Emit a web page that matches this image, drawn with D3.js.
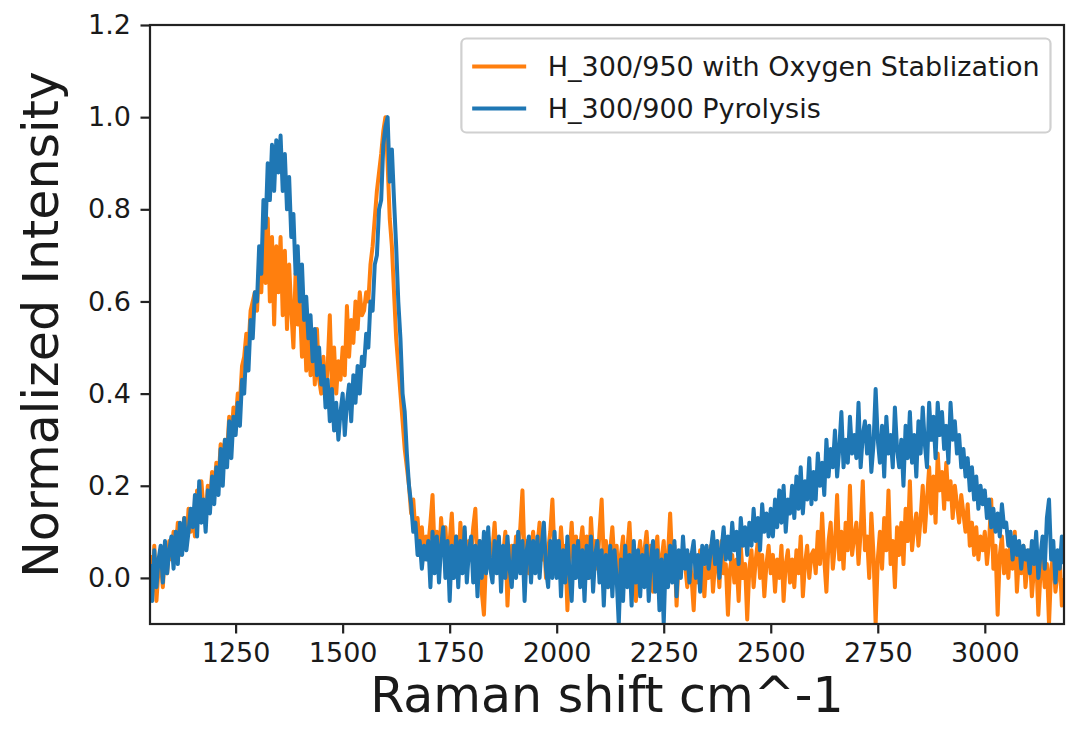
<!DOCTYPE html>
<html>
<head>
<meta charset="utf-8">
<script src="https://cdn.jsdelivr.net/npm/d3@7"></script>
<style>
  body { margin: 0; background: #fff; }
  svg text { font-family: "DejaVu Sans", sans-serif; fill: #1a1a1a; }
</style>
</head>
<body>
<div id="svg-container"></div>
<script>
// Raman shift grid (cm^-1): first sample and spacing
const shiftStart = 1050;
const shiftStep = 5;

// H_300/950 with Oxygen Stablization
const oxygenSeries = [
  0.05, -0.03, 0.07, -0.05, 0.02, 0.04, -0.02, 0.06, 0.01, 0.08,
  0.04, 0.1, 0.06, 0.12, 0.05, 0.09, 0.13, 0.07, 0.15, 0.1,
  0.14, 0.09, 0.19, 0.13, 0.21, 0.15, 0.12, 0.2, 0.16, 0.23,
  0.19, 0.25, 0.21, 0.29, 0.24, 0.3, 0.27, 0.35, 0.3, 0.37,
  0.34, 0.4, 0.38, 0.46, 0.48, 0.53, 0.5, 0.58, 0.6, 0.62,
  0.58, 0.68, 0.62, 0.76, 0.64, 0.78, 0.6, 0.74, 0.55, 0.72,
  0.62, 0.74, 0.57, 0.71, 0.54, 0.68, 0.58, 0.5, 0.66, 0.55,
  0.6, 0.48, 0.58, 0.45, 0.55, 0.44, 0.53, 0.42, 0.54, 0.43,
  0.4, 0.48, 0.39, 0.46, 0.57, 0.41, 0.5, 0.4, 0.47, 0.43,
  0.5, 0.44, 0.59, 0.48, 0.56, 0.51, 0.6, 0.54, 0.62, 0.57,
  0.58, 0.62, 0.6, 0.68, 0.72, 0.78, 0.84, 0.88, 0.92, 0.97,
  1.0, 0.9, 0.78, 0.72, 0.62, 0.52, 0.46, 0.4, 0.34, 0.28,
  0.24, 0.2, 0.14, 0.17, 0.1, 0.13, 0.06, 0.11, 0.04, 0.09,
  0.07, 0.12, 0.18, 0.05, 0.1, 0.02, 0.13, 0.06, 0.11, 0.03,
  0.08, 0.14, 0.04, 0.09, 0.01, 0.12, 0.06, 0.1, 0.03, 0.08,
  0.05, 0.11, 0.15, 0.02, 0.08, -0.03, -0.08, 0.04, 0.09, 0.02,
  0.06, 0.12, 0.03, 0.08, 0.0, 0.05, 0.1, -0.06, 0.04, 0.07,
  0.02, 0.09, 0.05, 0.11, 0.19, 0.04, 0.08, 0.01, 0.06, 0.1,
  0.03, 0.07, 0.12, 0.04, 0.09, 0.0, 0.06, 0.1, 0.17, 0.05,
  0.08, 0.02, 0.11, 0.04, 0.07, -0.07, 0.05, 0.12, 0.03, 0.09,
  0.01, 0.07, 0.11, 0.04, 0.09, 0.0, 0.13, 0.05, 0.08, 0.02,
  0.1, 0.17, 0.04, 0.08, -0.02, 0.06, 0.11, 0.03, 0.07, -0.04,
  0.05, 0.09, 0.0, 0.06, 0.12, 0.02, 0.07, -0.05, 0.04, 0.08,
  0.01, 0.06, 0.1, 0.03, 0.07, -0.03, 0.05, 0.09, 0.0, 0.04,
  0.08, -0.02, 0.05, 0.14, 0.03, 0.07, -0.06, 0.04, 0.02, 0.06,
  0.03, -0.02, 0.05, 0.0, -0.07, 0.04, -0.01, 0.06, 0.02, -0.04,
  0.04, 0.0, 0.07, -0.03, 0.03, 0.05, -0.02, 0.08, 0.01, 0.03,
  -0.08, 0.02, 0.05, -0.01, 0.04, -0.05, 0.07, 0.0, 0.03, -0.09,
  0.02, 0.06, -0.02, 0.04, 0.08, 0.0, 0.05, -0.04, 0.03, 0.07,
  0.01, 0.05, -0.03, 0.04, 0.0, 0.07, -0.05, 0.03, 0.06, -0.01,
  0.04, -0.02, 0.06, 0.01, 0.09, -0.04, 0.03, 0.07, 0.0, 0.05,
  0.06, 0.01, 0.1, 0.03, 0.14, 0.04, -0.03, 0.08, 0.12, 0.02,
  0.07, 0.18, 0.04, 0.1, 0.02, 0.12, 0.06, 0.2, 0.05, 0.09,
  0.12, 0.03, 0.1, 0.21, 0.06, 0.09, 0.0, 0.14, 0.05, -0.1,
  0.04, 0.1, 0.02, 0.13, 0.06, 0.19, 0.03, 0.08, -0.02, 0.11,
  0.05, 0.12, 0.03, 0.15, 0.08, 0.21, 0.06, 0.11, 0.14, 0.07,
  0.13, 0.2, 0.1, 0.17, 0.24, 0.14, 0.22, 0.12, 0.27, 0.19,
  0.23, 0.15, 0.25, 0.17, 0.21, 0.13, 0.2, 0.16, 0.12, 0.18,
  0.14, 0.1, 0.16, 0.07, 0.12, 0.05, 0.11, 0.04, 0.09, 0.06,
  0.1, 0.03, 0.08, 0.17, 0.02, 0.07, -0.08, 0.05, 0.09, 0.01,
  0.06, 0.0, 0.08, 0.02, 0.1, -0.03, 0.05, 0.01, 0.07, -0.02,
  0.03, 0.06, -0.04, 0.02, 0.05, -0.08, 0.01, 0.04, -0.02, 0.03,
  -0.1, 0.02, 0.05, -0.03, 0.01, 0.04, -0.06, 0.0
];

// H_300/900 Pyrolysis
const pyrolysisSeries = [
  0.03, -0.05, 0.06, -0.02, 0.04, 0.07, -0.01, 0.08, 0.01, 0.06,
  0.09, 0.02, 0.1, 0.03, 0.12, 0.05, 0.13, 0.06, 0.1, 0.15,
  0.11, 0.18, 0.09, 0.21, 0.12, 0.17, 0.1, 0.19, 0.14, 0.22,
  0.16, 0.24, 0.18, 0.28, 0.2, 0.3, 0.24, 0.34, 0.26, 0.35,
  0.31, 0.38, 0.33, 0.43, 0.4, 0.5, 0.45, 0.56, 0.52, 0.62,
  0.6, 0.72, 0.66, 0.82, 0.76, 0.9, 0.82, 0.94, 0.84, 0.95,
  0.88, 0.96, 0.84, 0.92, 0.8, 0.87, 0.74, 0.79, 0.66, 0.72,
  0.6, 0.68, 0.56, 0.61, 0.52, 0.57, 0.47, 0.54, 0.44, 0.5,
  0.42, 0.46, 0.37, 0.43, 0.34, 0.41, 0.32, 0.38, 0.3, 0.36,
  0.4, 0.31, 0.38, 0.42, 0.34, 0.44, 0.38, 0.46, 0.4, 0.48,
  0.46, 0.53, 0.5, 0.6, 0.58, 0.68, 0.7, 0.8, 0.82, 0.94,
  0.98, 1.0, 0.86, 0.93, 0.82, 0.72, 0.6, 0.52, 0.4, 0.36,
  0.27, 0.2, 0.16, 0.1, 0.12, 0.05, 0.08, 0.02, 0.07, 0.04,
  0.08, -0.02, 0.1, 0.01, 0.09, -0.01, 0.07, 0.11, 0.0, 0.08,
  -0.05, 0.07, 0.0, 0.09, -0.02, 0.08, 0.01, 0.11, -0.01, 0.06,
  0.09, -0.01, 0.07, -0.04, 0.08, 0.0, 0.1, 0.01, 0.11, 0.02,
  -0.01, 0.08, 0.01, 0.09, -0.03, 0.07, 0.0, 0.09, 0.02, -0.02,
  0.07, 0.0, 0.1, 0.01, 0.08, -0.05, 0.06, 0.09, -0.01, 0.08,
  0.01, 0.09, 0.0, 0.07, 0.12, 0.02, -0.02, 0.08, 0.0, 0.1,
  0.0, 0.08, -0.04, 0.06, -0.01, 0.09, 0.01, -0.05, 0.07, 0.0,
  0.08, -0.02, 0.06, -0.05, 0.07, 0.0, 0.09, -0.03, 0.05, 0.08,
  -0.01, 0.06, -0.06, 0.05, -0.02, 0.07, -0.04, 0.06, 0.0, -0.1,
  0.04, -0.05, 0.07, -0.02, 0.05, -0.06, 0.08, -0.01, 0.06, -0.04,
  0.05, -0.02, 0.07, -0.05, 0.04, 0.08, -0.03, 0.06, -0.07, 0.04,
  -0.1, 0.05, -0.02, 0.07, -0.01, 0.08, -0.04, 0.06, 0.0, 0.09,
  0.02, 0.06, -0.01, 0.05, 0.08, 0.0, 0.05, -0.03, 0.07, 0.03,
  0.07, 0.02, 0.06, 0.1, 0.03, 0.08, 0.0, 0.06, 0.11, 0.04,
  0.09, 0.04, 0.12, 0.06, 0.1, 0.03, 0.13, 0.07, 0.11, 0.05,
  0.12, 0.07, 0.15, 0.08, 0.13, 0.06, 0.16, 0.1, 0.14, 0.09,
  0.15, 0.09, 0.17, 0.11, 0.19, 0.12, 0.2, 0.1, 0.17, 0.14,
  0.2, 0.13, 0.22, 0.15, 0.24, 0.14, 0.21, 0.17, 0.26, 0.16,
  0.23, 0.17, 0.27, 0.2, 0.25, 0.18, 0.3, 0.22, 0.28, 0.24,
  0.32, 0.22, 0.28, 0.36, 0.24, 0.3, 0.25, 0.35, 0.27, 0.31,
  0.26, 0.38, 0.24, 0.31, 0.34, 0.27, 0.33, 0.23, 0.29, 0.41,
  0.3, 0.25, 0.33, 0.22, 0.35, 0.27, 0.31, 0.24, 0.37, 0.28,
  0.24, 0.3, 0.2, 0.33, 0.26, 0.36, 0.25, 0.31, 0.22, 0.34,
  0.27, 0.37, 0.29, 0.24, 0.38, 0.3, 0.35, 0.26, 0.38, 0.31,
  0.36, 0.28, 0.33, 0.25, 0.38, 0.3, 0.34, 0.27, 0.31, 0.24,
  0.28, 0.22, 0.26, 0.19, 0.24, 0.17, 0.22, 0.15, 0.2, 0.16,
  0.19, 0.13, 0.17, 0.11, 0.15, 0.1, 0.14, 0.09, 0.16, 0.11,
  0.12, 0.07, 0.1, 0.04, 0.09, 0.05, 0.08, 0.02, 0.07, 0.04,
  0.06, 0.01, 0.08, 0.03, 0.1, 0.0, 0.05, 0.09, 0.02, 0.13,
  0.17, 0.04, 0.08, -0.01, 0.06, 0.02, 0.09, 0.03
];

const seriesNames = ['H_300/950 with Oxygen Stablization', 'H_300/900 Pyrolysis'];
const seriesColors = ['#ff7f0e', '#1f77b4'];
const xTickValues = [1250, 1500, 1750, 2000, 2250, 2500, 2750, 3000];
const yTickValues = [0.0, 0.2, 0.4, 0.6, 0.8, 1.0, 1.2];

const width = 1067;
const height = 734;
const plot = { left: 150, right: 1064, top: 25, bottom: 624 };
const tickFont = 27;

const svg = d3.select('#svg-container').
append('svg').
attr('width', width).
attr('height', height);

const xScale = d3.scaleLinear().
domain([1050, 3185]).
range([plot.left, plot.right]);

const yScale = d3.scaleLinear().
domain([-0.1, 1.2]).
range([plot.bottom, plot.top]);

svg.append('clipPath').
attr('id', 'plot-clip').
append('rect').
attr('x', plot.left).
attr('y', plot.top).
attr('width', plot.right - plot.left).
attr('height', plot.bottom - plot.top);

const line = d3.line().
x((d, i) => xScale(shiftStart + i * shiftStep)).
y(d => yScale(d));

svg.append('g').
attr('clip-path', 'url(#plot-clip)').
selectAll('path').
data([oxygenSeries, pyrolysisSeries]).
enter().
append('path').
attr('d', line).
attr('fill', 'none').
attr('stroke', (d, i) => seriesColors[i]).
attr('stroke-width', 4).
attr('stroke-linejoin', 'round');

// axes
const xAxis = d3.axisBottom(xScale).
tickValues(xTickValues).
tickSize(9.5).
tickPadding(9.5).
tickFormat(d3.format('d'));

const yAxis = d3.axisLeft(yScale).
tickValues(yTickValues).
tickSize(9.5).
tickPadding(9.5).
tickFormat(d3.format('.1f'));

const gx = svg.append('g').
attr('transform', 'translate(0,' + plot.bottom + ')').
call(xAxis);

const gy = svg.append('g').
attr('transform', 'translate(' + plot.left + ',0)').
call(yAxis);

[gx, gy].forEach(g => {
  g.select('.domain').remove();
  g.selectAll('.tick line').attr('stroke', '#222').attr('stroke-width', 2.2);
  g.selectAll('.tick text').
  style('font-size', tickFont + 'px').
  style('font-family', '"DejaVu Sans", sans-serif').
  attr('fill', '#1a1a1a');
});

svg.append('rect').
attr('x', plot.left).
attr('y', plot.top).
attr('width', plot.right - plot.left).
attr('height', plot.bottom - plot.top).
attr('fill', 'none').
attr('stroke', '#222').
attr('stroke-width', 2.2);

// axis labels
svg.append('text').
attr('x', (plot.left + plot.right) / 2).
attr('y', 712).
attr('text-anchor', 'middle').
style('font-size', '49px').
text('Raman shift cm^-1');

svg.append('text').
attr('transform', 'translate(58,' + (plot.top + plot.bottom) / 2 + ') rotate(-90)').
attr('text-anchor', 'middle').
style('font-size', '49px').
text('Normalized Intensity');

// legend
const legend = svg.append('g');
const pad = 0.4 * tickFont;
const handleLen = 2 * tickFont;
const textGap = 0.8 * tickFont;
const rowGap = 42;

const labels = legend.selectAll('text').
data(seriesNames).
enter().
append('text').
style('font-size', tickFont + 'px').
attr('dy', '0.35em').
text(d => d);

const textW = d3.max(labels.nodes(), n => n.getComputedTextLength());
const boxW = pad + handleLen + textGap + textW + pad;
const boxH = 94;
const boxX = plot.right - 0.5 * tickFont - boxW;
const boxY = plot.top + 0.5 * tickFont;

legend.insert('rect', 'text').
attr('x', boxX).
attr('y', boxY).
attr('width', boxW).
attr('height', boxH).
attr('rx', 5).
attr('fill', 'rgba(255,255,255,0.8)').
attr('stroke', '#d0d0d0').
attr('stroke-width', 2.2);

labels.
attr('x', boxX + pad + handleLen + textGap).
attr('y', (d, i) => boxY + 28 + i * rowGap);

legend.selectAll('line').
data(seriesNames).
enter().
append('line').
attr('x1', boxX + pad).
attr('x2', boxX + pad + handleLen).
attr('y1', (d, i) => boxY + 28 + i * rowGap).
attr('y2', (d, i) => boxY + 28 + i * rowGap).
attr('stroke', (d, i) => seriesColors[i]).
attr('stroke-width', 4);
</script>
</body>
</html>
